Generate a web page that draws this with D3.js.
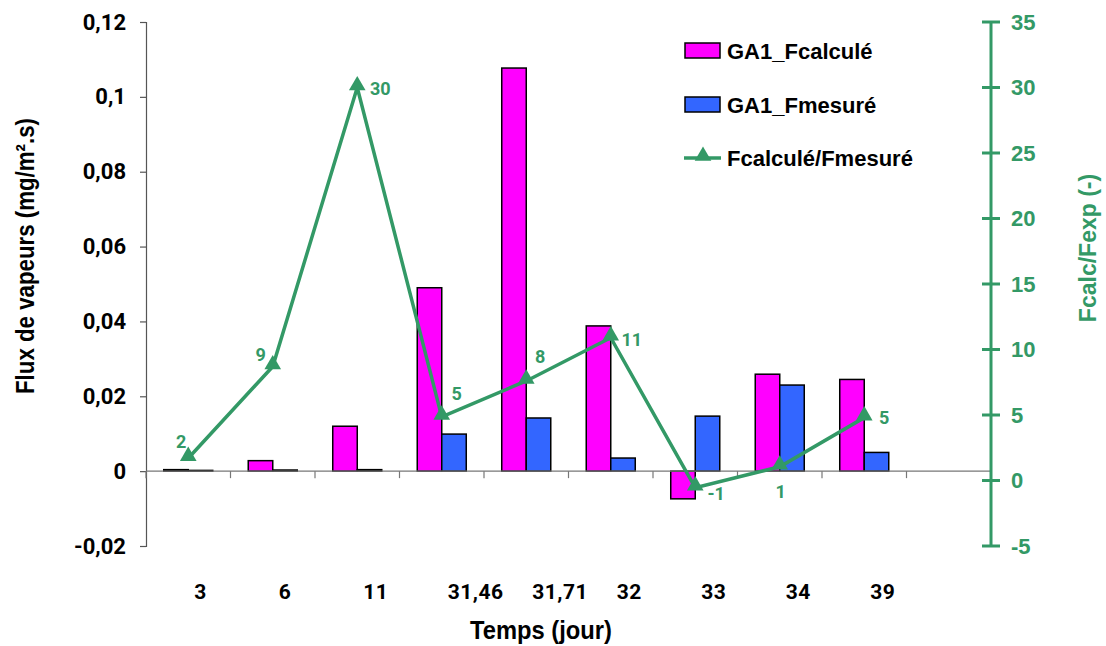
<!DOCTYPE html>
<html>
<head>
<meta charset="utf-8">
<script src="https://cdn.jsdelivr.net/npm/d3@7/dist/d3.min.js"></script>
<style>
  html, body { margin: 0; padding: 0; background: #fff; }
  svg { display: block; }
</style>
</head>
<body>
<svg id="chart" width="1106" height="646"></svg>
<script>
// ---------- data ----------
const categories = ["3", "6", "11", "31,46", "31,71", "32", "33", "34", "39", ""];
const fCalcule = [0.0004, 0.0028, 0.012, 0.049, 0.1077, 0.0388, -0.0074, 0.0259, 0.0245, null];
const fMesure = [0.0002, 0.0003, 0.0004, 0.0099, 0.0142, 0.0035, 0.0147, 0.0230, 0.0050, null];
const ratio = [1.7, 8.7, 30.0, 4.85, 7.6, 10.9, -0.55, 1.05, 4.8];
const leftTicks = [-0.02, 0, 0.02, 0.04, 0.06, 0.08, 0.1, 0.12];
const rightTicks = [-5, 0, 5, 10, 15, 20, 25, 30, 35];
const seriesNames = ["GA1_Fcalculé", "GA1_Fmesuré", "Fcalculé/Fmesuré"];
// label placement offsets (style only)
const labelOffsets = [[-7, -17], [-12, -12], [23, 1], [15, -23], [14, -24], [21, 2], [21, 6], [1, 25], [20, 0]];

// ---------- styles ----------
const PINK = "#FF00FF", BLUE = "#3366FF", GREEN = "#339966";

const svg = d3.select("#chart");
const plot = { left: 146, right: 991, top: 22, bottom: 546 };

const x = d3.scaleBand().domain(categories.map((c, i) => i)).range([plot.left, plot.right]).padding(0);
const bw = x.bandwidth();
const sub = d3.scaleBand().domain([0, 1]).range([bw * 0.21, bw * 0.79]).padding(0);
const yL = d3.scaleLinear().domain([-0.02, 0.12]).range([plot.bottom, plot.top]);
const yR = d3.scaleLinear().domain([-5, 35]).range([plot.bottom, plot.top]);

const fmtComma = d => String(+d.toFixed(4)).replace(".", ",");

// ---------- bars ----------
const barData = [];
categories.forEach((c, i) => {
  if (fCalcule[i] != null) barData.push({ i, s: 0, v: fCalcule[i] });
  if (fMesure[i] != null) barData.push({ i, s: 1, v: fMesure[i] });
});
svg.append("g").selectAll("rect").data(barData).join("rect")
  .attr("x", d => x(d.i) + sub(d.s))
  .attr("width", sub.bandwidth())
  .attr("y", d => Math.min(yL(d.v), yL(0)))
  .attr("height", d => Math.abs(yL(d.v) - yL(0)))
  .attr("fill", d => d.s === 0 ? PINK : BLUE)
  .attr("stroke", "#000").attr("stroke-width", 1.5);

// ---------- left axis ----------
const gL = svg.append("g").attr("transform", `translate(${plot.left},0)`)
  .call(d3.axisLeft(yL).tickValues(leftTicks).tickSize(6).tickPadding(14).tickFormat(fmtComma));
gL.select(".domain").attr("stroke", "#555").attr("stroke-width", 1.2);
gL.selectAll(".tick line").attr("stroke", "#555").attr("stroke-width", 1.2);
gL.selectAll(".tick text").attr("font-family", "Roboto, sans-serif").attr("font-weight", "bold")
  .attr("font-size", 22).attr("fill", "#000");

// ---------- x axis (at zero) ----------
const gX = svg.append("g").attr("transform", `translate(0,${yL(0)})`);
gX.append("line").attr("x1", plot.left).attr("x2", plot.right).attr("stroke", "#777").attr("stroke-width", 1.2);
gX.selectAll("line.tk").data(categories.map((c, i) => i)).join("line").attr("class", "tk")
  .attr("x1", d => x(d)).attr("x2", d => x(d)).attr("y1", 0).attr("y2", 7)
  .attr("stroke", "#777").attr("stroke-width", 1.2);
svg.append("g").selectAll("text").data(categories).join("text")
  .attr("x", (d, i) => x(i) + bw / 2 + 6)
  .attr("y", 599)
  .attr("font-family", "Roboto, sans-serif").attr("font-weight", "bold").attr("font-size", 21)
  .attr("letter-spacing", 0.5)
  .text(d => d);

// ---------- right axis ----------
const gR = svg.append("g").attr("transform", `translate(${plot.right},0)`);
gR.append("line").attr("y1", plot.top).attr("y2", plot.bottom).attr("stroke", GREEN).attr("stroke-width", 3);
gR.selectAll("line.tk").data(rightTicks).join("line").attr("class", "tk")
  .attr("x1", -9).attr("x2", 9).attr("y1", d => yR(d)).attr("y2", d => yR(d))
  .attr("stroke", GREEN).attr("stroke-width", 3);
gR.selectAll("text").data(rightTicks).join("text")
  .attr("x", 20).attr("y", d => yR(d)).attr("dy", "0.36em")
  .attr("font-family", "'Liberation Sans', Arial, sans-serif").attr("font-weight", "bold")
  .attr("font-size", 22).attr("fill", GREEN)
  .text(d => d);

// ---------- ratio line ----------
const pts = ratio.map((v, i) => [x(i) + bw / 2, yR(v), v, i]);
svg.append("path").datum(pts)
  .attr("d", d3.line().x(d => d[0]).y(d => d[1]))
  .attr("fill", "none").attr("stroke", GREEN).attr("stroke-width", 3.5).attr("stroke-linejoin", "miter");
const tri = d3.symbol().type(d3.symbolTriangle).size(120);
svg.append("g").selectAll("path").data(pts).join("path")
  .attr("transform", d => `translate(${d[0]},${d[1] - 2})`)
  .attr("d", tri).attr("fill", GREEN);
svg.append("g").selectAll("text").data(pts).join("text")
  .attr("x", d => d[0] + labelOffsets[d[3]][0])
  .attr("y", d => d[1] + labelOffsets[d[3]][1])
  .attr("dy", "0.36em").attr("text-anchor", "middle")
  .attr("font-family", "Roboto, sans-serif").attr("font-weight", "bold")
  .attr("font-size", 18).attr("fill", GREEN)
  .text(d => Math.round(d[2]));

// ---------- axis titles ----------
svg.append("text")
  .attr("transform", `translate(34,256) rotate(-90)`)
  .attr("text-anchor", "middle")
  .attr("font-family", "'Liberation Sans Narrow', 'Arial Narrow', sans-serif").attr("font-weight", "bold")
  .attr("font-size", 25)
  .attr("textLength", 276).attr("lengthAdjust", "spacingAndGlyphs")
  .text("Flux de vapeurs (mg/m².s)");
svg.append("text")
  .attr("x", 541).attr("y", 639)
  .attr("text-anchor", "middle")
  .attr("font-family", "'Liberation Sans Narrow', 'Arial Narrow', sans-serif").attr("font-weight", "bold")
  .attr("font-size", 25)
  .attr("textLength", 142).attr("lengthAdjust", "spacingAndGlyphs")
  .text("Temps (jour)");
svg.append("text")
  .attr("transform", `translate(1096,248) rotate(-90)`)
  .attr("text-anchor", "middle")
  .attr("font-family", "'Liberation Sans', Arial, sans-serif").attr("font-weight", "bold")
  .attr("font-size", 23).attr("fill", GREEN)
  .text("Fcalc/Fexp (-)");

// ---------- legend ----------
const lg = svg.append("g");
const legY = [51, 105, 158];
[0, 1].forEach(k => {
  lg.append("rect").attr("x", 685).attr("y", legY[k] - 8).attr("width", 35).attr("height", 15)
    .attr("fill", k === 0 ? PINK : BLUE).attr("stroke", "#000").attr("stroke-width", 1.5);
});
lg.append("line").attr("x1", 684).attr("x2", 721).attr("y1", legY[2]).attr("y2", legY[2])
  .attr("stroke", GREEN).attr("stroke-width", 3.5);
lg.append("path").attr("transform", `translate(703,${legY[2] - 2})`).attr("d", tri).attr("fill", GREEN);
lg.selectAll("text").data(seriesNames).join("text")
  .attr("x", 727).attr("y", (d, i) => legY[i]).attr("dy", "0.36em")
  .attr("font-family", "'Liberation Sans', Arial, sans-serif").attr("font-weight", "bold")
  .attr("font-size", 22).attr("fill", "#000")
  .text(d => d);
</script>
</body>
</html>
